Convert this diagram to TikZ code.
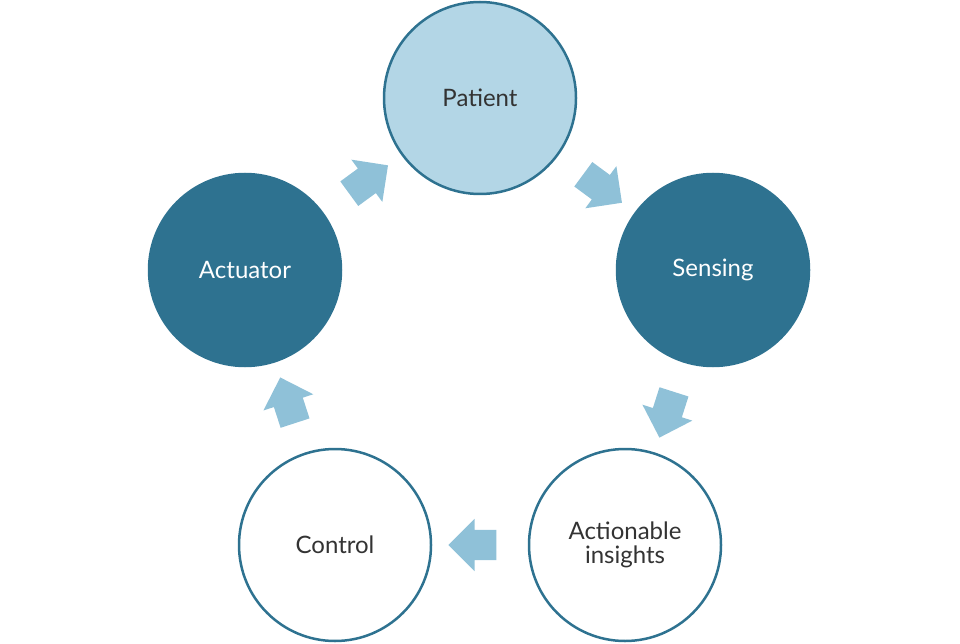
\documentclass[tikz,border=0pt]{standalone}
\usepackage{fontspec}
\setmainfont{Lato}
\usetikzlibrary{shapes.arrows,calc}
\definecolor{dk}{HTML}{2E7290}
\definecolor{lt}{HTML}{B3D6E6}
\definecolor{ar}{HTML}{8FC1D8}
\definecolor{tx}{HTML}{333333}
\begin{document}
\begin{tikzpicture}[x=1pt,y=-1pt,
  circ/.style={circle,draw=dk,line width=2.5pt,minimum size=192pt,inner sep=0pt,font=\fontsize{24}{28}\selectfont,align=center},
  blk/.style={single arrow,fill=ar,draw=none,minimum height=48pt,inner sep=15pt,single arrow head extend=11pt,single arrow head indent=0pt}]
\useasboundingbox (0,0) rectangle (960,644);
\node[circ,fill=lt,text=tx] (p) at (480,98) {Patient};
\node[circ,fill=dk,text=white] (s) at (713,270) {Sensing};
\node[circ,fill=white,text=tx] (a) at (625,545) {Actionable\\[-4pt]insights};
\node[circ,fill=white,text=tx] (c) at (335,545) {Control};
\node[circ,fill=dk,text=white] (u) at (245,270) {Actuator};
\node[blk,rotate=-36.4] (a1) at ($(p)!0.5!(s)$) {};
\node[blk,rotate=-107.7] (a2) at ($(s)!0.5!(a)$) {};
\node[blk,rotate=180] (a3) at ($(a)!0.5!(c)$) {};
\node[blk,rotate=108] (a4) at ($(c)!0.5!(u)$) {};
\node[blk,rotate=36.2] (a5) at ($(u)!0.5!(p)$) {};
\end{tikzpicture}
\end{document}
